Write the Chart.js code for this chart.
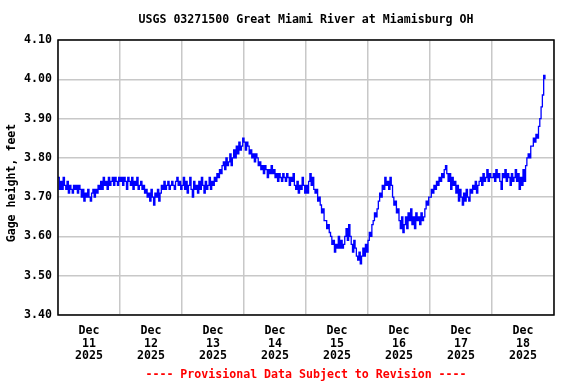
<!DOCTYPE html>
<html>
<head>
<meta charset="utf-8">
<script src="https://cdn.jsdelivr.net/npm/chart.js@4/dist/chart.umd.min.js"></script>
<style>
html,body{margin:0;padding:0;background:#fff;}
canvas{display:block;}
</style>
</head>
<body>
<canvas id="c" width="576" height="384"></canvas>
<script>
// Gage height (feet), 30-minute readings, starting at midnight of each day
const dec11 = [3.75,3.72,3.74,3.72,3.75,3.73, 3.72,3.74,3.71,3.73,3.72,3.71, 3.73,3.72,3.73,3.71,3.73,3.72, 3.70,3.72,3.69,3.71,3.70,3.72, 3.70,3.69,3.71,3.72,3.70,3.72, 3.71,3.73,3.72,3.74,3.72,3.75, 3.73,3.74,3.72,3.75,3.73,3.74, 3.75,3.73,3.75,3.74,3.73,3.75];
const dec12 = [3.74,3.75,3.73,3.75,3.74,3.72,3.75,3.74, 3.73,3.75,3.72,3.74,3.73,3.75,3.72,3.73,3.74,3.72,3.73,3.71, 3.72,3.70,3.71,3.69,3.72,3.70,3.68,3.71,3.70,3.72,3.69,3.71, 3.73,3.72,3.74,3.72,3.73,3.74,3.72,3.73,3.74,3.73,3.72,3.74, 3.75,3.73,3.74,3.72];
const dec13 = [3.73,3.75,3.72,3.74,3.71,3.73,3.75,3.72,3.70,3.74,3.72,3.73,3.71,3.74,3.72,3.75,3.73,3.71,3.74,3.72,3.73,3.75,3.72,3.74,3.73,3.75, 3.74,3.76,3.75,3.77,3.76,3.78, 3.79,3.77,3.80,3.78,3.79,3.81,3.78,3.80, 3.82,3.80,3.83,3.81,3.84,3.82, 3.83,3.85];
const dec14 = [3.84,3.82,3.84,3.83,3.81, 3.82,3.80,3.81,3.79,3.81,3.80,3.78, 3.79,3.77,3.78,3.76,3.78,3.77,3.75,3.77,3.76,3.78,3.76,3.77, 3.75,3.76,3.74,3.76,3.75,3.74,3.76,3.75,3.74,3.76,3.75,3.73,3.75,3.74,3.76, 3.73,3.72,3.74,3.71,3.73,3.72,3.75,3.73,3.71];
const dec15 = [3.73,3.71, 3.74,3.76,3.73,3.75,3.72, 3.71,3.72,3.69,3.70, 3.68,3.66,3.67,3.64, 3.64,3.62,3.63,3.61, 3.60,3.58,3.59,3.56,3.58,3.57,3.60,3.57, 3.59,3.57,3.58,3.60, 3.62,3.59,3.63,3.60, 3.58,3.56,3.59,3.57, 3.55,3.54,3.56,3.53,3.55, 3.57,3.55,3.58,3.56];
const dec16 = [3.59,3.61,3.60,3.63, 3.64,3.66,3.65,3.67, 3.69,3.71,3.70,3.73, 3.72,3.75,3.73,3.74,3.72,3.75,3.73, 3.70,3.68,3.69,3.66,3.67, 3.64,3.62,3.65,3.61,3.63, 3.65,3.62,3.66,3.64,3.67,3.63,3.65,3.62,3.66,3.64, 3.65,3.63,3.66,3.64,3.65, 3.67,3.69,3.68,3.70];
const dec17 = [3.70,3.72,3.71,3.73,3.72,3.74,3.73,3.75, 3.74,3.76,3.75,3.77,3.78,3.76, 3.74,3.76,3.72,3.75,3.73,3.74, 3.71,3.73,3.69,3.72,3.70,3.68,3.71,3.69,3.72,3.70,3.69, 3.72,3.71,3.73,3.72,3.74,3.71,3.73,3.74, 3.75,3.73,3.76,3.74,3.75,3.77,3.74,3.76,3.75];
const dec18 = [3.75,3.76,3.74,3.77,3.75,3.76,3.74,3.72,3.76,3.75,3.77,3.74,3.76,3.75,3.73,3.76,3.74,3.75, 3.77,3.74,3.76,3.72,3.75,3.73,3.77,3.74, 3.78,3.80, 3.81,3.80,3.83, 3.83,3.85,3.84, 3.86,3.85,3.88, 3.90, 3.93,3.96, 4.01,4.00];

const days = [dec11, dec12, dec13, dec14, dec15, dec16, dec17, dec18];
const dayLabels = ['11','12','13','14','15','16','17','18'];
const monthLabel = 'Dec';
const yearLabel = '2025';
const yTicks = [3.40, 3.50, 3.60, 3.70, 3.80, 3.90, 4.00, 4.10];
const titleText = 'USGS 03271500 Great Miami River at Miamisburg OH';
const footerText = '---- Provisional Data Subject to Revision ----';
const yTitle = 'Gage height, feet';

const points = [];
days.forEach((arr, d) => {
  arr.forEach((v, i) => points.push({x: d * 24 + i * 0.5, y: v}));
});

const FONT = "'DejaVu Sans Mono', 'Liberation Mono', monospace";

const textPlugin = {
  id: 'texts',
  afterDraw(chart) {
    const ctx = chart.ctx;
    const a = chart.chartArea;
    ctx.save();
    ctx.strokeStyle = '#000';
    ctx.lineWidth = 1.5;
    ctx.strokeRect(a.left, a.top, a.right - a.left, a.bottom - a.top);
    const cx = (a.left + a.right) / 2;
    ctx.textAlign = 'center';
    ctx.textBaseline = 'middle';
    ctx.font = 'bold 11.6px ' + FONT;
    ctx.fillStyle = '#000';
    ctx.fillText(titleText, cx, 20);
    ctx.fillStyle = '#ff0000';
    ctx.fillText(footerText, cx, 375);
    ctx.fillStyle = '#000';
    ctx.translate(12, 183);
    ctx.rotate(-Math.PI / 2);
    ctx.fillText(yTitle, 0, 0);
    ctx.restore();
  }
};

new Chart(document.getElementById('c'), {
  type: 'line',
  data: {
    datasets: [{
      data: points,
      borderColor: '#0000ff',
      borderWidth: 1.3,
      pointRadius: 0,
      stepped: true,
      fill: false
    }]
  },
  options: {
    responsive: false,
    animation: false,
    devicePixelRatio: 1,
    layout: {padding: {top: 40, right: 22, left: 0, bottom: 0}},
    plugins: {legend: {display: false}, tooltip: {enabled: false}},
    scales: {
      x: {
        type: 'linear',
        min: 0,
        max: 192,
        afterFit(s) { s.height = 69; },
        afterBuildTicks(s) {
          const t = [];
          for (let h = 0; h <= 192; h += 12) t.push({value: h});
          s.ticks = t;
        },
        ticks: {
          autoSkip: false,
          maxRotation: 0,
          padding: 9,
          color: '#000',
          font: {family: FONT, size: 11.6, weight: 'bold', lineHeight: 1.12},
          callback(v) {
            if (v % 24 === 12) {
              const d = (v - 12) / 24;
              return [monthLabel, dayLabels[d], yearLabel];
            }
            return '';
          }
        },
        grid: {
          drawTicks: false,
          color(c) { return (c.tick && c.tick.value % 24 === 0) ? '#c8c8c8' : 'rgba(0,0,0,0)'; },
          lineWidth: 1.5
        },
        border: {display: false}
      },
      y: {
        min: 3.40,
        max: 4.10,
        afterFit(s) { s.width = 58; },
        afterBuildTicks(s) { s.ticks = yTicks.map(v => ({value: v})); },
        ticks: {
          padding: 6,
          color: '#000',
          font: {family: FONT, size: 11.6, weight: 'bold'},
          callback(v) { return Number(v).toFixed(2); }
        },
        grid: {drawTicks: false, color: '#c8c8c8', lineWidth: 1.5},
        border: {display: false}
      }
    }
  },
  plugins: [textPlugin]
});
</script>
</body>
</html>
